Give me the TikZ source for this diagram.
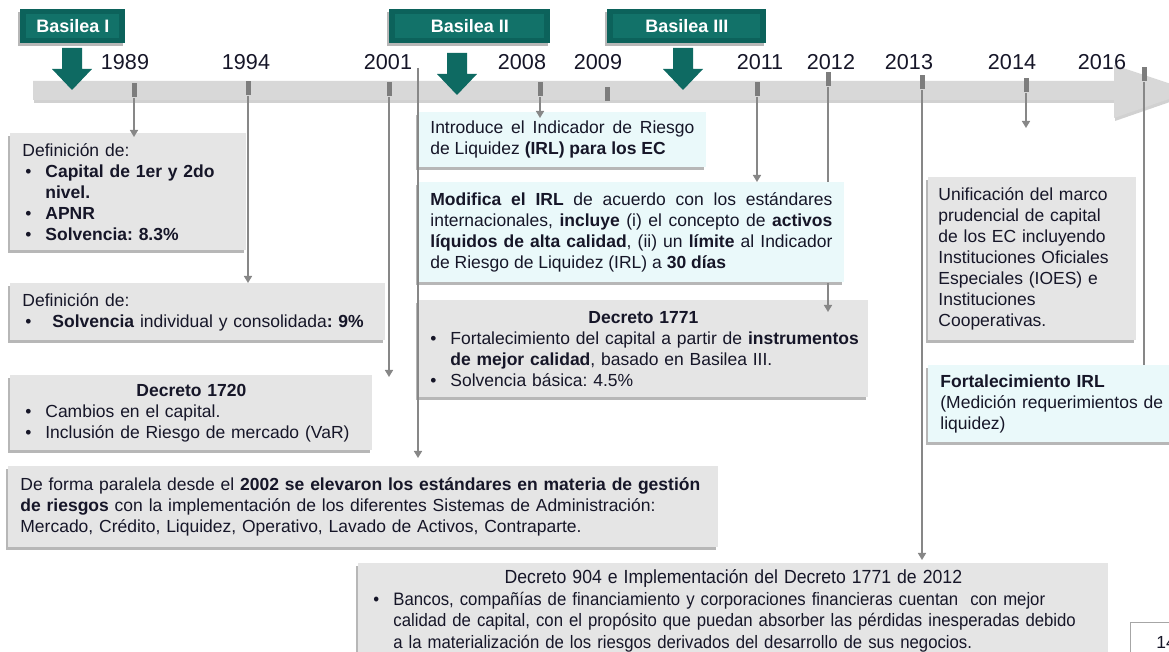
\documentclass[tikz,border=0pt]{standalone}
\usepackage{fontspec}
\setmainfont{Liberation Sans}
\newfontfamily\narrowfont[FakeStretch=0.93]{Liberation Sans}
\frenchspacing
\usetikzlibrary{arrows.meta,shadows,positioning,calc}
\definecolor{tealB}{RGB}{12,98,91}
\definecolor{tealL}{RGB}{18,114,105}
\definecolor{tealA}{RGB}{14,106,98}
\definecolor{barGray}{RGB}{216,216,216}
\definecolor{tickGray}{RGB}{125,125,125}
\definecolor{lineGray}{RGB}{135,135,135}
\definecolor{boxGray}{RGB}{229,229,229}
\definecolor{boxCyan}{RGB}{234,249,250}
\definecolor{txt}{RGB}{22,22,40}
\def\fScale{\fontsize{8.75}{10.5}\selectfont}
\def\nScale{\narrowfont\fontsize{9}{10.75}\selectfont}
\def\yScale{\fontsize{10.8}{12}\selectfont}
\def\bScale{\fontsize{9}{10}\selectfont\bfseries}
\newcommand{\bul}{\hspace*{1.5pt}\makebox[10pt][l]{\textbullet}}
\newcommand{\ind}{\hspace*{11.5pt}}
\newcommand{\ctr}[2]{\makebox[#1][c]{#2}}
\newcommand{\bigdown}[2]{\fill[tealA] (#1-10,#2)--(#1+10,#2)--(#1+10,#2+21)--(#1+20,#2+21)--(#1,#2+42)--(#1-20,#2+21)--(#1-10,#2+21)--cycle;}
\tikzset{shade/.style={drop shadow={shadow xshift=-1.2pt,shadow yshift=-1.5pt,fill=black!70,opacity=.4}}}
\tikzset{box/.style={anchor=north west,inner xsep=6pt,inner ysep=0pt,text=txt,font=\fScale,align=left,shade}}
\tikzset{gbox/.style={box,fill=boxGray}}
\tikzset{cbox/.style={box,fill=boxCyan}}
\tikzset{yrtick/.style={fill=tickGray,minimum width=2.5pt,minimum height=7pt,inner sep=0,anchor=north}}
\tikzset{year/.style={font=\yScale,text=txt,inner sep=0}}
\tikzset{banner/.style={fill=tealB,text=white,font=\bScale,minimum height=17pt,anchor=north west,inner sep=0,shade,
  path picture={\fill[tealL] ([xshift=3pt,yshift=-2.5pt]path picture bounding box.north west) rectangle ([xshift=-3pt,yshift=2.5pt]path picture bounding box.south east);}}}
\tikzset{lin/.style={draw=lineGray,line width=0.75pt}}
\tikzset{conn/.style={lin,-{Triangle[width=4pt,length=3.5pt]}}}

\begin{document}
\begin{tikzpicture}[x=0.5pt,y=-0.5pt]
\useasboundingbox (0,0) rectangle (1169,652);\clip (0,0) rectangle (1169,652);
% timeline
\path[fill=barGray,drop shadow={shadow xshift=0.5pt,shadow yshift=-1.5pt,fill=black!60,opacity=.3}] (33,81)--(1114,81)--(1114,65)--(1192,91)--(1114,118)--(1114,100)--(33,100)--cycle;
\foreach\yr/\tx/\ty in {1989/134/83,1994/248/81,2001/389/82,2008/540/82,2009/607/87,2011/757/82,2012/828/72,2013/922/75,2014/1026/78,2016/1144/67}{\node[yrtick] (t\yr) at (\tx,\ty) {};}
\foreach\yr/\lx in {1989/125,1994/246,2001/388,2008/522,2009/598,2011/760,2012/831,2013/909,2014/1012,2016/1102}{\node[year] (y\yr) at (\lx,62) {\yr};}
\node[banner,minimum width=52.5pt] (bas1) at (20,9) {Basilea I};
\node[banner,minimum width=80.5pt] (bas2) at (389,9) {Basilea II};
\node[banner,minimum width=79.5pt] (bas3) at (607,9) {Basilea III};
\bigdown{72}{48}\bigdown{457}{53}\bigdown{683}{48}
% left column
\node[gbox,text width=106pt,minimum height=58.5pt] (def89) at (10,133) {Definición de:\\\bul\textbf{Capital de 1er y 2do}\\\ind\textbf{nivel.}\\\bul\textbf{APNR}\\\bul\textbf{Solvencia: 8.3\%}};
\node[gbox,text width=175.5pt,minimum height=28.5pt] (def94) at (10,283) {Definición de:\\\bul\hspace*{3.5pt}\textbf{Solvencia} individual y consolidada\textbf{: 9\%}};
\node[gbox,text width=169pt,minimum height=37.5pt] (dec1720) at (10,375) {\ctr{169pt}{\textbf{Decreto 1720}}\\\bul Cambios en el capital.\\\bul Inclusión de Riesgo de mercado (VaR)};
\node[gbox,text width=343pt,minimum height=40.5pt] (paralela) at (8,466) {De forma paralela desde el \textbf{2002 se elevaron los estándares en materia de gestión}\\\textbf{de riesgos} con la implementación de los diferentes Sistemas de Administración:\\Mercado, Crédito, Liquidez, Operativo, Lavado de Activos, Contraparte.};
\node[gbox,font=\nScale,text width=363pt,minimum height=47.5pt] (dec904) at (358,563) {\ctr{363pt}{\fontsize{9.5}{10.75}\selectfont Decreto 904 e Implementación del Decreto 1771 de 2012}\\\bul Bancos, compañías de financiamiento y corporaciones financieras cuentan\ \ con mejor\\\ind calidad de capital, con el propósito que puedan absorber las pérdidas inesperadas debido\\\ind a la materialización de los riesgos derivados del desarrollo de sus negocios.};
% middle column
\node[cbox,align=justify,text width=132pt,minimum height=27.5pt] (intro) at (418,112) {Introduce el Indicador de Riesgo\linebreak de Liquidez \textbf{(IRL) para los EC}};
\node[cbox,align=justify,text width=201pt,minimum height=50pt] (modif) at (418,182) {\textbf{Modifica el IRL} de acuerdo con los estándares\linebreak internacionales, \textbf{incluye} (i) el concepto de \textbf{activos}\linebreak\textbf{líquidos de alta calidad}, (ii) un \textbf{límite} al Indicador\linebreak de Riesgo de Liquidez (IRL) a \textbf{30 días}};
\node[gbox,inner xsep=4.5pt,text width=216pt,minimum height=48.5pt] (dec1771) at (418,300) {\ctr{216pt}{\textbf{Decreto 1771}}\\\bul Fortalecimiento del capital a partir de \textbf{instrumentos}\\\ind\textbf{de mejor calidad}, basado en Basilea III.\\\bul Solvencia básica: 4.5\%};
% right column
\node[gbox,inner xsep=5pt,text width=94pt,minimum height=81.5pt] (unif) at (928,177) {Unificación del marco\\prudencial de capital\\de los EC incluyendo\\Instituciones Oficiales\\Especiales (IOES) e\\Instituciones\\Cooperativas.};
\node[cbox,text width=120pt,minimum height=38.5pt] (fortirl) at (928,365) {\textbf{Fortalecimiento IRL}\\(Medición requerimientos de\\liquidez)};
% connectors
\coordinate (p2002) at (418,68);\coordinate (e2014) at (1026,128);
\draw[conn] (t1989.south) -- ([yshift=-2pt]t1989.south |- def89.north);
\draw[conn] (t1994.south) -- (t1994.south |- def94.north);
\draw[conn] (t2001.south) -- ([yshift=-1pt]t2001.south |- dec1720.north);
\draw[conn] (p2002) -- ([yshift=4pt]p2002 |- paralela.north);
\draw[conn] (t2008.south) -- ([yshift=-3pt]t2008.south |- intro.north);
\draw[conn] (t2011.south) -- (t2011.south |- modif.north);
\draw[lin] (t2012.south) -- (t2012.south |- modif.north);
\draw[conn] (t2012.south |- modif.south) -- ([yshift=-6pt]t2012.south |- dec1771.north);
\draw[conn] (t2013.south) -- ([yshift=1.5pt]t2013.south |- dec904.north);
\draw[conn] (t2014.south) -- (e2014);
\draw[lin] (t2016.south) -- (t2016.south |- fortirl.north);
\node[draw=gray!70,fill=white,anchor=north west,minimum width=30pt,minimum height=20pt,inner xsep=13pt,text=txt,font=\fScale,align=left] (page) at (1130,622) {14};
\end{tikzpicture}
\end{document}
